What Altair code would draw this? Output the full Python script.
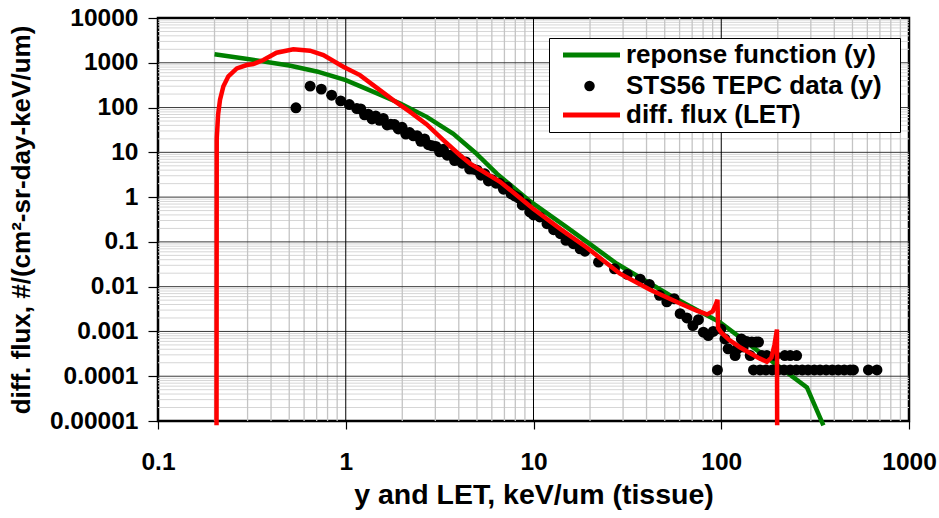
import altair as alt
import pandas as pd

FONT = "Liberation Sans"

# Response function (lineal energy y)
resp_x = [0.2, 0.3, 0.5, 0.7, 1.0, 1.19, 1.5, 1.95, 2.7, 3.74, 4.9, 6.4, 9.6, 15, 20,
          27.8, 40, 55.5, 75, 98.6, 148, 206, 286, 350]
resp_y = [1550, 1220, 870, 640, 410, 300, 200, 123, 62, 26, 9.8, 3.3, 0.8, 0.214, 0.089,
          0.0325, 0.0131, 0.0058, 0.00295, 0.0016, 0.00044, 0.000158, 0.0000565, 0.000008]

# Differential LET flux
flux_x = [0.205, 0.2055, 0.209, 0.214, 0.223, 0.237, 0.263, 0.297, 0.322, 0.364, 0.428,
          0.526, 0.645, 0.76, 0.97, 1.19, 1.79, 2.2, 2.7, 3.3, 4.06, 4.6, 6.64, 9.96, 14,
          19.2, 28.9, 41.8, 60.4, 74, 84, 90, 93, 95.5, 96.2, 100, 110, 125, 142, 160,
          175, 185, 192, 198, 198.5]
flux_y = [0.000008, 20, 70, 150, 300, 500, 750, 890, 940, 1150, 1675,
          1995, 1860, 1490, 815, 531, 147, 80, 42, 19, 8.6, 5.6, 2.2, 0.55, 0.19,
          0.075, 0.0195, 0.0085, 0.0042, 0.0029, 0.0024, 0.0028, 0.0038, 0.0051, 0.0012,
          0.00095, 0.00065, 0.00045, 0.00033, 0.00025, 0.00021, 0.00026, 0.0005, 0.0011,
          0.000008]

# STS-56 TEPC measured spectrum
tepc_x = [0.543, 0.646, 0.741, 0.841, 0.94, 1.045, 1.145,
          1.202, 1.259, 1.318, 1.380, 1.445, 1.514, 1.585, 1.660, 1.738, 1.820,
          1.905, 1.995, 2.089, 2.188, 2.291, 2.399, 2.512, 2.630, 2.754, 2.884,
          3.020, 3.162, 3.311, 3.467, 3.631, 3.802, 3.981, 4.169, 4.365, 4.571,
          4.786, 5.012, 5.248, 5.495, 5.754, 6.026, 6.310, 6.607, 6.918, 7.244,
          7.586, 7.943, 8.318, 8.710, 9.120, 9.550,
          10.0, 10.8, 11.8, 12.8, 13.9, 14.9, 16.3, 17.7, 18.8, 22.2, 27, 31.6, 37,
          41.4, 46.9, 51.3, 56.1, 60.4, 65.6, 70.6, 75.6, 80.3, 85.3, 90.6, 95.4, 99.5,
          104.6, 108.8, 118.6, 122, 128, 131, 136.5, 142.6, 145.5, 153.5, 158, 164.6,
          175, 193.6, 218, 233, 252,
          148.5, 161, 173, 187, 201, 216, 233, 251, 270, 290, 313, 336, 362, 390, 420,
          452, 486, 506, 608, 675]
tepc_y = [98.5, 301, 258, 189, 141, 117, 95,
          93.5, 69.0, 71.3, 55.7, 64.6, 51.8, 57.3, 40.9, 42.4, 41.8,
          33.3, 36.3, 25.5, 27.7, 23.4, 23.6, 17.6, 19.9, 14.8, 14.0,
          13.6, 10.3, 11.7, 8.61, 8.63, 6.55, 7.36, 5.71, 6.11, 4.22,
          4.20, 3.99, 3.09, 3.31, 2.29, 2.45, 2.04, 2.03, 1.50, 1.67,
          1.19, 1.06, 0.964, 0.668, 0.701, 0.467,
          0.40, 0.36, 0.255, 0.187, 0.152, 0.108, 0.091, 0.070, 0.062, 0.0353, 0.025,
          0.0188, 0.0147, 0.0112, 0.0064, 0.0046, 0.0054, 0.0025, 0.0020, 0.00135,
          0.00183, 0.00096, 0.00081, 0.00100, 0.000138, 0.00113, 0.00068, 0.00041,
          0.00029, 0.00041, 0.00068, 0.00045, 0.00060, 0.00029, 0.00058, 0.00058,
          0.00058, 0.00029, 0.00029, 0.00029, 0.00029, 0.00029, 0.00029,
          0.000138, 0.000138, 0.000138, 0.000138, 0.000138, 0.000138, 0.000138,
          0.000138, 0.000138, 0.000138, 0.000138, 0.000138, 0.000138, 0.000138,
          0.000138, 0.000138, 0.000138, 0.000138, 0.000138, 0.000138]

x_ticks = [0.1, 1, 10, 100, 1000]
y_ticks = [0.00001, 0.0001, 0.001, 0.01, 0.1, 1, 10, 100, 1000, 10000]

S_RESP = "reponse function (y)"
S_TEPC = "STS56 TEPC data (y)"
S_FLUX = "diff. flux (LET)"
line_names = [S_RESP, S_FLUX]
line_colors = ["#008000", "#ff0000"]

# gridline positions: decades and the 2..9 subdivisions in between
x_major = [1, 10, 100]
x_minor = [k * 10.0 ** e for e in range(-1, 3) for k in range(2, 10)]
y_major = [10.0 ** e for e in range(-4, 4)]
y_minor = [k * 10.0 ** e for e in range(-5, 4) for k in range(2, 10)]

resp = pd.DataFrame({"x": resp_x, "y": resp_y, "series": S_RESP})
resp["i"] = range(len(resp))
flux = pd.DataFrame({"x": flux_x, "y": flux_y, "series": S_FLUX})
flux["i"] = range(len(flux))
tepc = pd.DataFrame({"x": tepc_x, "y": tepc_y, "series": S_TEPC})

xscale = alt.Scale(type="log", domain=[0.1, 1000], nice=False)
yscale = alt.Scale(type="log", domain=[0.00001, 10000], nice=False)

LEG_X, LEG_Y = 391, 20
# trailing no-break spaces widen the legend frame; the zero-width space keeps them
# from being trimmed when the label is measured
PAD_TAIL = "\u00a0\u00a0\u2009\u200b"
label_style = dict(labelFont=FONT, labelFontSize=26, labelFontWeight="bold",
                   labelColor="black", labelLimit=400, padding=4,
                   title=None, orient="none", direction="vertical")

# boxed legend for the two curves; the middle row is left free for the data points
line_legend = alt.Legend(
    legendX=LEG_X, legendY=LEG_Y, fillColor="white", strokeColor="black",
    cornerRadius=0, rowPadding=34, symbolOffset=25.5, labelOffset=21.5,
    symbolType="M-3,0H3", symbolSize=361, symbolStrokeWidth=5, zindex=1,
    labelExpr=f"datum.label + '{PAD_TAIL}'",
    **label_style,
)
dot_legend = alt.Legend(
    legendX=LEG_X, legendY=LEG_Y + 31, symbolOffset=23.5, labelOffset=23.5,
    symbolType="circle", symbolSize=110,
    symbolFillColor="black", symbolStrokeWidth=0, zindex=2,
    **label_style,
)

x_axis = alt.Axis(
    values=x_ticks, labelExpr="format(datum.value, '.1~f')", grid=False, domain=False,
    tickSize=8, tickColor="black", tickWidth=1.2, labelFlush=False, labelOverlap=False,
    labelFont=FONT, labelFontSize=24.5, labelFontWeight="bold", labelColor="black",
    labelPadding=21, title="y and LET, keV/um (tissue)", titleFont=FONT,
    titleFontSize=28.5, titleFontWeight="bold", titleColor="black", titlePadding=7,
)
y_axis = alt.Axis(
    values=y_ticks, labelExpr="format(datum.value, '.5~f')", grid=False, domain=False,
    tickSize=10, tickColor="black", tickWidth=1.2, labelFlush=False, labelOverlap=False,
    labelFont=FONT, labelFontSize=24.5, labelFontWeight="bold", labelColor="black",
    labelPadding=10, title="diff. flux, #/(cm²-sr-day-keV/um)", titleFont=FONT,
    titleFontSize=26, titleFontWeight="bold", titleColor="black", titlePadding=15,
)

X = alt.X("x:Q", scale=xscale, axis=x_axis)
Y = alt.Y("y:Q", scale=yscale, axis=y_axis)
line_color = alt.Color("series:N", scale=alt.Scale(domain=line_names, range=line_colors),
                       legend=line_legend)


def vrules(vals, col, w):
    return alt.Chart(pd.DataFrame({"x": vals})).mark_rule(color=col, strokeWidth=w).encode(
        x=X)


def hrules(vals, col, w):
    return alt.Chart(pd.DataFrame({"y": vals})).mark_rule(color=col, strokeWidth=w).encode(
        y=Y)


grid = (hrules(y_minor, "#d6d6d6", 1) + vrules(x_minor, "#c4c4c4", 1.3)
        + hrules(y_major, "#3a3a3a", 1) + vrules(x_major, "#000000", 1))

green = alt.Chart(resp).mark_line(strokeWidth=4.5, clip=False).encode(
    x=X, y=Y, color=line_color, order="i:Q")
dots = alt.Chart(tepc).mark_point(filled=True, size=120, opacity=1, color="black").encode(
    x=X, y=Y,
    shape=alt.Shape("series:N", scale=alt.Scale(domain=[S_TEPC], range=["circle"]),
                    legend=dot_legend))
red = alt.Chart(flux).mark_line(strokeWidth=4.5, clip=False).encode(
    x=X, y=Y, color=line_color, order="i:Q")

chart = alt.layer(grid, green, dots, red).properties(
    width=751, height=403,
    autosize=alt.AutoSizeParams(type="none"),
    padding={"left": 158, "top": 18, "right": 30, "bottom": 97},
    background="white",
).configure_view(stroke="black", strokeWidth=2.5)

chart.save("out.html", embed_options={"renderer": "svg", "actions": False})
